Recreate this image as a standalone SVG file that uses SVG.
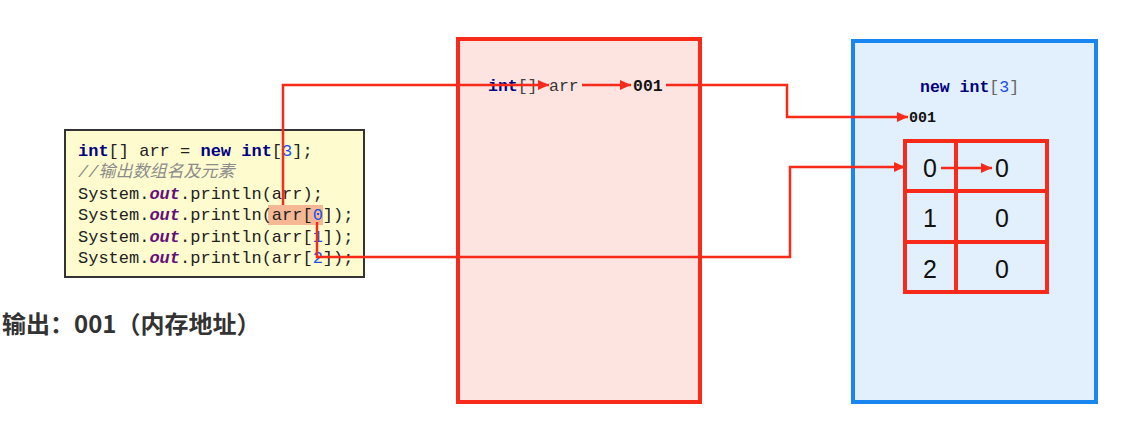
<svg xmlns="http://www.w3.org/2000/svg" width="1128" height="431" viewBox="0 0 1128 431">
<defs>
<style>
.code{font-family:"Liberation Mono","DejaVu Sans Mono","Noto Sans CJK SC",monospace;font-size:17px;fill:#222}
.kw{fill:#000080;font-weight:bold}
.num{fill:#1750eb}
.out{fill:#660e7a;font-style:italic;font-weight:bold}
.cmt{fill:#8c8c8c;font-style:italic}
.mono{font-family:"Liberation Mono","DejaVu Sans Mono",monospace}
.cell{font-family:"Liberation Sans",Arial,sans-serif;font-size:25px;fill:#111;text-anchor:middle}
.wire{fill:none;stroke:#f82a1a;stroke-width:2.5}
</style>
<marker id="ah" markerWidth="12" markerHeight="12" refX="11" refY="6" orient="auto" markerUnits="userSpaceOnUse">
<path d="M0,1 L11,6 L0,11 Z" fill="#f82a1a"/>
</marker>
</defs>
<rect width="1128" height="431" fill="#ffffff"/>

<g id="code">
<rect x="65" y="130" width="299" height="147" fill="#fefccf" stroke="#333" stroke-width="2"/>
<rect x="268" y="205" width="55" height="20" fill="#f6b894"/>
<text class="code" x="78" y="156"><tspan class="kw">int</tspan>[] arr = <tspan class="kw">new</tspan> <tspan class="kw">int</tspan>[<tspan class="num">3</tspan>];</text>
<text class="code cmt" x="78" y="177">//输出数组名及元素</text>
<text class="code" x="78" y="199">System.<tspan class="out">out</tspan>.println(arr);</text>
<text class="code" x="78" y="220">System.<tspan class="out">out</tspan>.println(arr[<tspan class="num">0</tspan>]);</text>
<text class="code" x="78" y="242">System.<tspan class="out">out</tspan>.println(arr[<tspan class="num">1</tspan>]);</text>
<text class="code" x="78" y="263">System.<tspan class="out">out</tspan>.println(arr[<tspan class="num">2</tspan>]);</text>
</g>

<g id="output-note">
<text x="2" y="333" font-family="'Noto Sans CJK SC','Noto Sans',sans-serif" font-size="24" font-weight="bold" fill="#333">输出：001（内存地址）</text>
</g>

<g id="stack">
<rect x="458" y="39" width="242" height="363" fill="#fde4e1" stroke="#f82a1a" stroke-width="4"/>
<text class="mono" x="488" y="91" font-size="16.5"><tspan fill="#000080" font-weight="bold">int</tspan><tspan fill="#444">[]</tspan></text>
<text class="mono" x="549" y="91" font-size="16.5" fill="#333">arr</text>
<text class="mono" x="633" y="91" font-size="16.5" font-weight="bold" fill="#111">001</text>
</g>

<g id="heap">
<rect x="853" y="41" width="243" height="361" fill="#e2effc" stroke="#1a86f0" stroke-width="4"/>
<text class="mono" x="920" y="92" font-size="16.5"><tspan fill="#000080" font-weight="bold">new int</tspan><tspan fill="#666">[</tspan><tspan fill="#1750eb">3</tspan><tspan fill="#666">]</tspan></text>
<text class="mono" x="909" y="122" font-size="15" font-weight="bold" fill="#111">001</text>
</g>

<g id="array-grid">
<rect x="905" y="141" width="142" height="151" fill="none" stroke="#f82a1a" stroke-width="4"/>
<line x1="956" y1="141" x2="956" y2="292" stroke="#f82a1a" stroke-width="4"/>
<line x1="905" y1="191" x2="1047" y2="191" stroke="#f82a1a" stroke-width="4"/>
<line x1="905" y1="242" x2="1047" y2="242" stroke="#f82a1a" stroke-width="4"/>
<text class="cell" x="930" y="177">0</text>
<text class="cell" x="1002" y="177">0</text>
<text class="cell" x="930" y="227">1</text>
<text class="cell" x="1002" y="227">0</text>
<text class="cell" x="930" y="278">2</text>
<text class="cell" x="1002" y="278">0</text>
</g>

<g id="connectors">
<polyline class="wire" points="283,205 283,85 549,85" marker-end="url(#ah)"/>
<line class="wire" x1="582" y1="85" x2="631" y2="85" marker-end="url(#ah)"/>
<polyline class="wire" points="666,85 787,85 787,117 908,117" marker-end="url(#ah)"/>
<polyline class="wire" points="317,222 317,257 790,257 790,167 905,167" marker-end="url(#ah)"/>
<line class="wire" x1="941" y1="168" x2="992" y2="168" marker-end="url(#ah)"/>
</g>
</svg>
